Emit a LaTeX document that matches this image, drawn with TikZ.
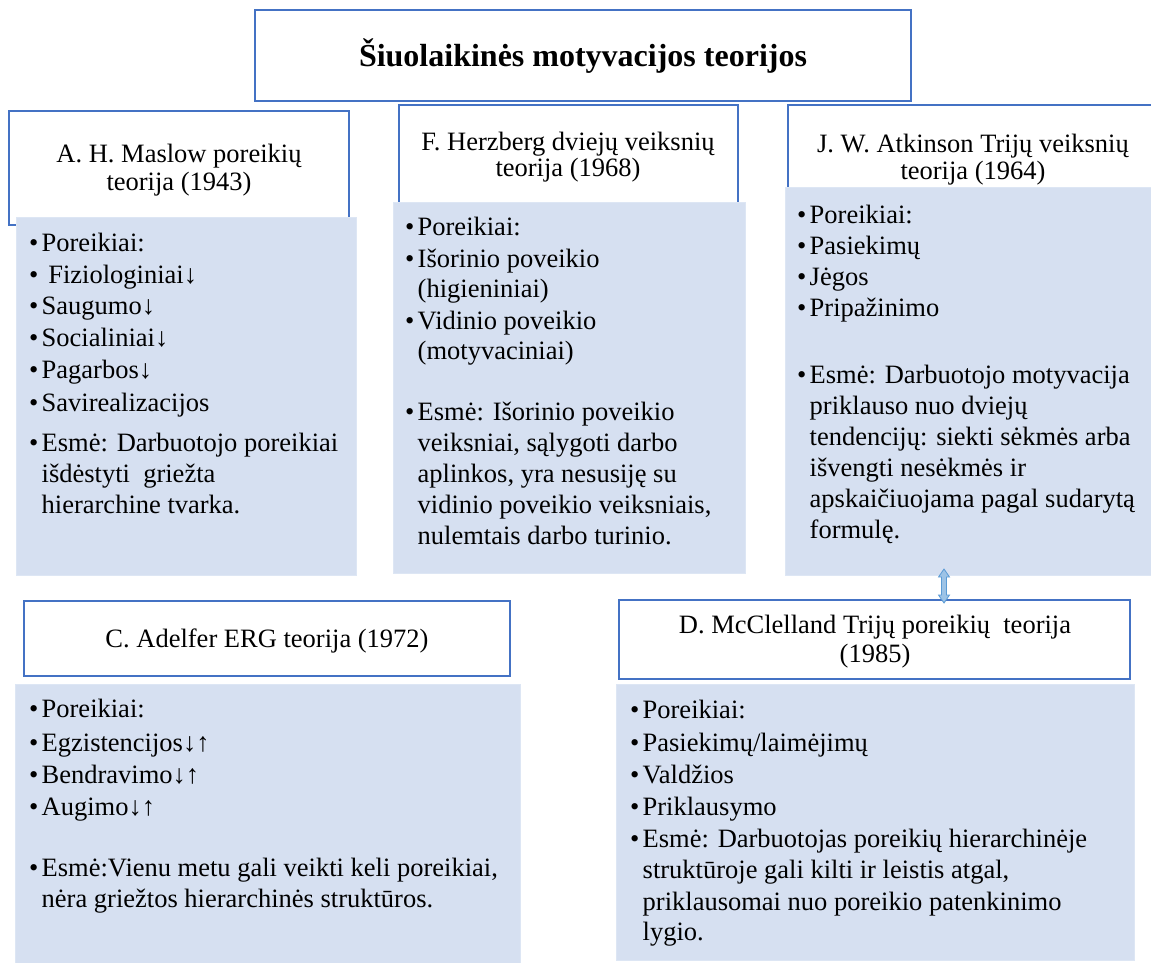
\documentclass[tikz,border=0pt]{standalone}
\usepackage{fontspec}
\setmainfont{Liberation Serif}
\definecolor{hblue}{HTML}{4472C4}
\definecolor{bfill}{HTML}{D6E0F1}
\definecolor{bedge}{HTML}{DDE6F4}
\definecolor{afill}{HTML}{9DC3E6}
\definecolor{aedge}{HTML}{5B9BD5}
\newcommand\bfnt{\fontsize{26.5}{30}\selectfont}
\newcommand\bu{\makebox[12.5pt][l]{•}}
\begin{document}
\begin{tikzpicture}[x=1pt,y=-1pt,
 hdr/.style={draw=hblue, line width=2pt, fill=white, anchor=north west, inner sep=0, outer sep=0},
 bodybox/.style={fill=bfill, draw=bedge, line width=1pt, anchor=north west, inner sep=0, outer sep=0},
 ln/.style={anchor=base west, inner sep=0, font=\bfnt},
 hl/.style={anchor=base, inner sep=0, font=\bfnt},
 fatarrow/.style={draw=aedge, fill=afill, line width=0.8pt, line join=miter}]
\useasboundingbox[fill=white] (0,0) rectangle (1151,963);

% title
\node[hdr, line width=2.5pt, minimum width=656pt, minimum height=91pt] (title) at (255,10) {};
\node[anchor=base, inner sep=0, font=\fontsize{32}{36}\selectfont\bfseries] (titletxt) at (583,67) {Šiuolaikinės motyvacijos teorijos};

% headers
\node[hdr, minimum width=340pt, minimum height=114pt] (masH) at (9,111) {};
\node[hdr, minimum width=339pt, minimum height=98pt] (herH) at (399,105) {};
\node[hdr, minimum width=380pt, minimum height=85pt] (atkH) at (788,105) {};
\node[hdr, minimum width=486pt, minimum height=75pt] (adeH) at (24,601) {};
\node[hdr, minimum width=511pt, minimum height=79pt] (mccH) at (619,600) {};

% bodies
\node[bodybox, minimum width=340pt, minimum height=358pt] (masB) at (16,217) {};
\node[bodybox, minimum width=352pt, minimum height=371pt] (herB) at (393,202) {};
\node[bodybox, minimum width=370pt, minimum height=388pt] (atkB) at (785,187) {};
\node[bodybox, minimum width=505pt, minimum height=282pt] (adeB) at (15,684) {};
\node[bodybox, minimum width=518pt, minimum height=276pt] (mccB) at (616,684) {};

% header texts
\node[hl] (masT1) at (179,163) {A. H. Maslow poreikių};
\node[hl] (masT2) at (179,190) {teorija (1943)};
\node[hl] (herT1) at (568,150) {F. Herzberg dviejų veiksnių};
\node[hl] (herT2) at (568,176) {teorija (1968)};
\node[hl] (atkT1) at (973,153) {J. W. Atkinson Trijų veiksnių};
\node[hl] (atkT2) at (973,179) {teorija (1964)};
\node[hl] (adeT1) at (267,647) {C. Adelfer ERG teorija (1972)};
\node[hl] (mccT1) at (875,633) {D. McClelland Trijų poreikių\ \ teorija};
\node[hl] (mccT2) at (875,662) {(1985)};

% Maslow body
\node[ln] (m1) at (29,251) {\bu Poreikiai:};
\node[ln] (m2) at (29,283) {\bu\ Fiziologiniai↓};
\node[ln] (m3) at (29,314) {\bu Saugumo↓};
\node[ln] (m4) at (29,346) {\bu Socialiniai↓};
\node[ln] (m5) at (29,378) {\bu Pagarbos↓};
\node[ln] (m6) at (29,411) {\bu Savirealizacijos};
\node[ln] (m7) at (29,451) {\bu Esmė: Darbuotojo poreikiai};
\node[ln] (m8) at (41.5,482) {išdėstyti\ \ griežta};
\node[ln] (m9) at (41.5,513) {hierarchine tvarka.};

% Herzberg body
\node[ln] (h1) at (405,235) {\bu Poreikiai:};
\node[ln] (h2) at (405,267) {\bu Išorinio poveikio};
\node[ln] (h3) at (417.5,297) {(higieniniai)};
\node[ln] (h4) at (405,329) {\bu Vidinio poveikio};
\node[ln] (h5) at (417.5,359) {(motyvaciniai)};
\node[ln] (h6) at (405,420) {\bu Esmė: Išorinio poveikio};
\node[ln] (h7) at (417.5,451) {veiksniai, sąlygoti darbo};
\node[ln] (h8) at (417.5,482) {aplinkos, yra nesusiję su};
\node[ln] (h9) at (417.5,513) {vidinio poveikio veiksniais,};
\node[ln] (h10) at (417.5,544) {nulemtais darbo turinio.};

% Atkinson body
\node[ln] (a1) at (797,223) {\bu Poreikiai:};
\node[ln] (a2) at (797,254) {\bu Pasiekimų};
\node[ln] (a3) at (797,285) {\bu Jėgos};
\node[ln] (a4) at (797,316) {\bu Pripažinimo};
\node[ln] (a5) at (797,383) {\bu Esmė: Darbuotojo motyvacija};
\node[ln] (a6) at (809.5,414) {priklauso nuo dviejų};
\node[ln] (a7) at (809.5,445) {tendencijų: siekti sėkmės arba};
\node[ln] (a8) at (809.5,476) {išvengti nesėkmės ir};
\node[ln] (a9) at (809.5,507) {apskaičiuojama pagal sudarytą};
\node[ln] (a10) at (809.5,538) {formulę.};

% Adelfer body
\node[ln] (d1) at (29,717) {\bu Poreikiai:};
\node[ln] (d2) at (29,751) {\bu Egzistencijos↓↑};
\node[ln] (d3) at (29,783) {\bu Bendravimo↓↑};
\node[ln] (d4) at (29,815) {\bu Augimo↓↑};
\node[ln] (d5) at (29,876) {\bu Esmė:Vienu metu gali veikti keli poreikiai,};
\node[ln] (d6) at (41.5,907) {nėra griežtos hierarchinės struktūros.};

% McClelland body
\node[ln] (c1) at (630,718) {\bu Poreikiai:};
\node[ln] (c2) at (630,751) {\bu Pasiekimų/laimėjimų};
\node[ln] (c3) at (630,783) {\bu Valdžios};
\node[ln] (c4) at (630,815) {\bu Priklausymo};
\node[ln] (c5) at (630,847) {\bu Esmė: Darbuotojas poreikių hierarchinėje};
\node[ln] (c6) at (642.5,878) {struktūroje gali kilti ir leistis atgal,};
\node[ln] (c7) at (642.5,910) {priklausomai nuo poreikio patenkinimo};
\node[ln] (c8) at (642.5,940) {lygio.};

% double arrow between Atkinson body and McClelland header
\coordinate (arrTop) at (944,569);
\coordinate (arrBot) at (944,603);
\draw[fatarrow] (arrTop) -- ++(5.5,8) -- ++(-3,0) -- ++(0,18) -- ++(3,0)
  -- (arrBot) -- ++(-5.5,-8) -- ++(3,0) -- ++(0,-18) -- ++(-3,0) -- cycle;
\end{tikzpicture}
\end{document}
